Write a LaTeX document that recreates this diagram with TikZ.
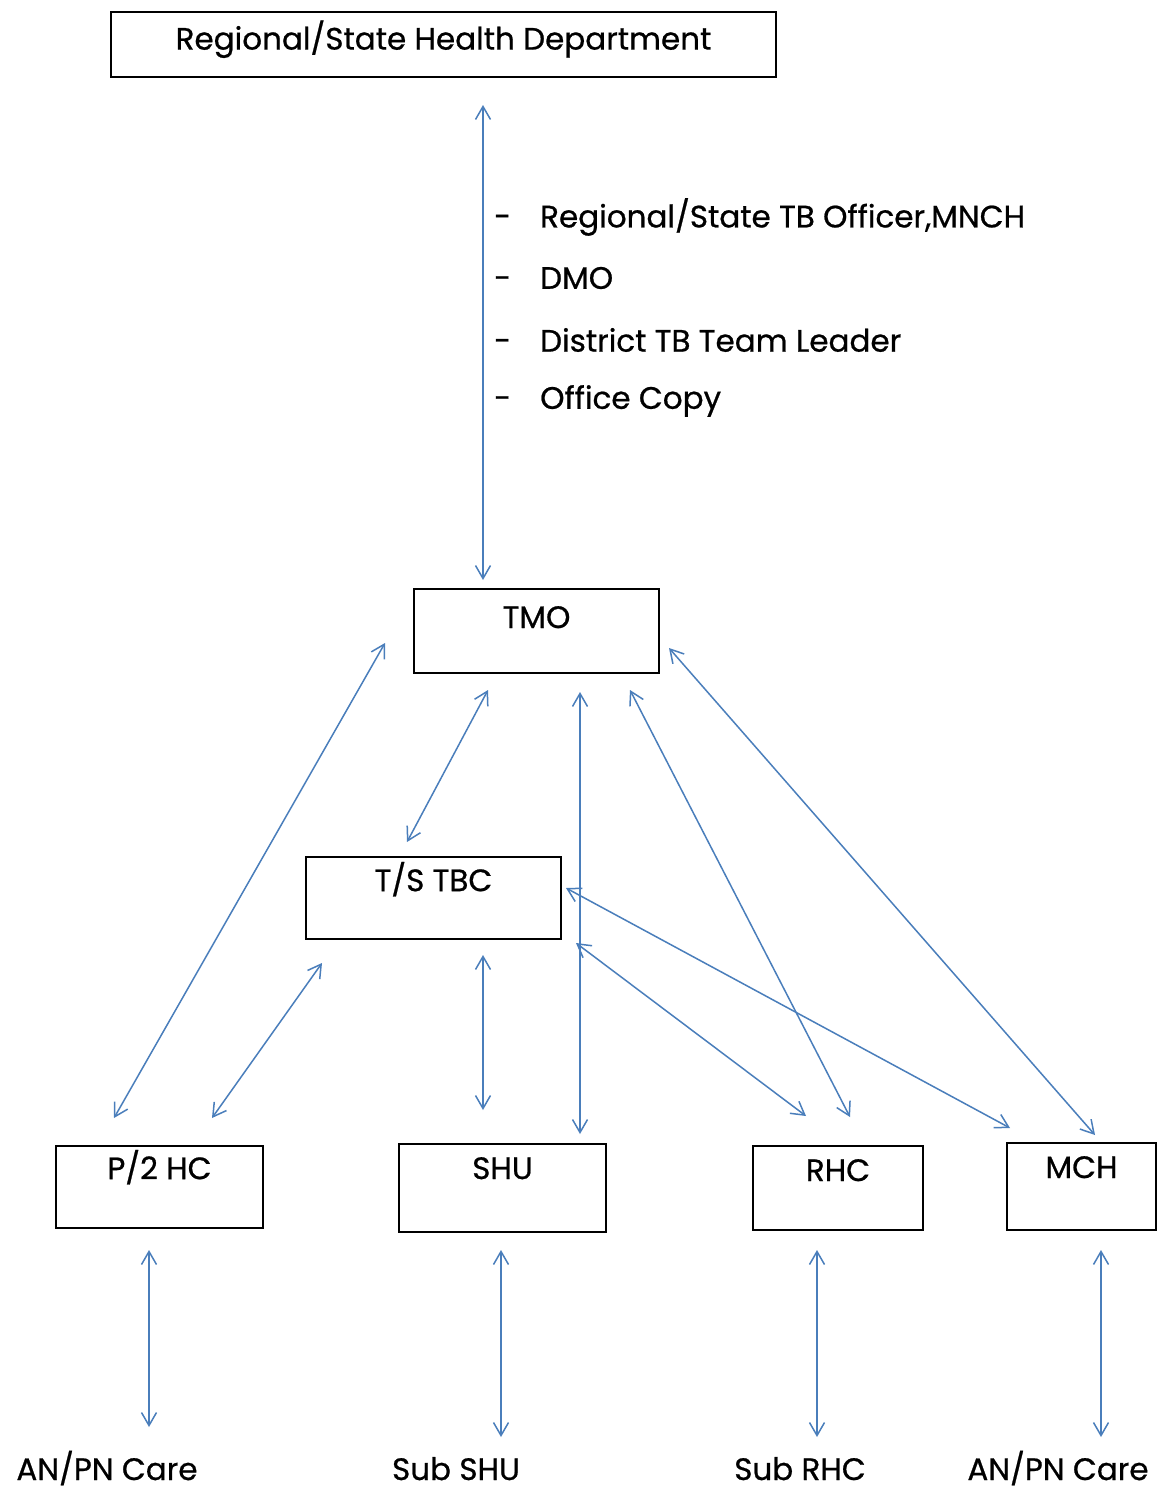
\documentclass[tikz,border=0pt]{standalone}
\usepackage{fontspec}
\setmainfont{Poppins}[FakeBold=0.7]
\usetikzlibrary{arrows.meta}
\definecolor{linkblue}{RGB}{74,126,187}
\tikzstyle{r} = [rectangle, draw=black, line width=1.6pt, inner sep=0pt]
\tikzstyle{t} = [font=\fontsize{31}{36}\selectfont, inner sep=0pt]
\tikzstyle{intext} = [t, anchor=center, yshift=-25pt]
\tikzstyle{link} = [draw=linkblue, line width=1.5pt, {Straight Barb[angle=60:15pt]}-{Straight Barb[angle=60:15pt]}]

\begin{document}
\begin{tikzpicture}[x=1pt,y=-1pt]
	\useasboundingbox (0,0) rectangle (1157,1488);
	% boxes
	\node[r,minimum width=665,minimum height=65,label={[intext,yshift=-3pt]north:Regional/State Health Department}](rshd) at (443.5,44.5){};
	\node[r,minimum width=245,minimum height=84,label={[intext,yshift=-4pt]north:TMO}](tmo) at (536.5,631){};
	\node[r,minimum width=255,minimum height=82,label={[intext,yshift=2pt]north:T/S TBC}](tstbc) at (433.5,898){};
	\node[r,minimum width=207,minimum height=82,label={[intext,yshift=3pt]north:P/2 HC}](p2hc) at (159.5,1187){};
	\node[r,minimum width=207,minimum height=88,label={[intext]north:SHU}](shu) at (502.5,1188){};
	\node[r,minimum width=170,minimum height=84,label={[intext]north:RHC}](rhc) at (838,1188){};
	\node[r,minimum width=149,minimum height=87,label={[intext]north:MCH}](mch) at (1081.5,1186.5){};
	% copy list
	\foreach \y/\txt [count=\i] in {217/{Regional/State TB Officer,MNCH},278/DMO,340/District TB Team Leader,401/Office Copy}
		\node[t,anchor=west](cc\i) at (494,\y){\makebox[46pt][l]{-}\txt};
	% bottom
	\node[t,anchor=base](anpn1) at (107,1480){AN/PN Care};
	\node[t,anchor=base](subshu) at (456,1480){Sub SHU};
	\node[t,anchor=base](subrhc) at (800,1480){Sub RHC};
	\node[t,anchor=base](anpn2) at (1058,1480){AN/PN Care};
	% arrow ends
	\coordinate (rshd-tmo) at (483,105);
	\coordinate (tmo-rshd) at (483,580);
	\coordinate (tmo-p2hc) at (385,643);
	\coordinate (p2hc-tmo) at (114,1118);
	\coordinate (tmo-tstbc) at (488,690);
	\coordinate (tstbc-tmo) at (407,842);
	\coordinate (tmo-shu) at (580,692);
	\coordinate (shu-tmo) at (580,1134);
	\coordinate (tmo-rhc) at (630,690);
	\coordinate (rhc-tmo) at (850,1117);
	\coordinate (tmo-mch) at (669,648);
	\coordinate (mch-tmo) at (1095,1135);
	\coordinate (tstbc-p2hc) at (322,963);
	\coordinate (p2hc-tstbc) at (212,1118);
	\coordinate (tstbc-shu) at (483,955);
	\coordinate (shu-tstbc) at (483,1110);
	\coordinate (tstbc-rhc) at (576,943);
	\coordinate (rhc-tstbc) at (806,1116);
	\coordinate (tstbc-mch) at (566,888);
	\coordinate (mch-tstbc) at (1010,1128);
	\coordinate (p2hc-anpn1) at (149,1250);
	\coordinate (anpn1-p2hc) at (149,1427);
	\coordinate (shu-subshu) at (501,1250);
	\coordinate (subshu-shu) at (501,1437);
	\coordinate (rhc-subrhc) at (817,1250);
	\coordinate (subrhc-rhc) at (817,1437);
	\coordinate (mch-anpn2) at (1101,1250);
	\coordinate (anpn2-mch) at (1101,1437);
	\foreach \a/\b in {rshd/tmo,tmo/p2hc,tmo/tstbc,tmo/shu,tmo/rhc,tmo/mch,tstbc/p2hc,tstbc/shu,tstbc/rhc,tstbc/mch,p2hc/anpn1,shu/subshu,rhc/subrhc,mch/anpn2}
		\draw[link] (\a-\b)--(\b-\a);
\end{tikzpicture}
\end{document}
